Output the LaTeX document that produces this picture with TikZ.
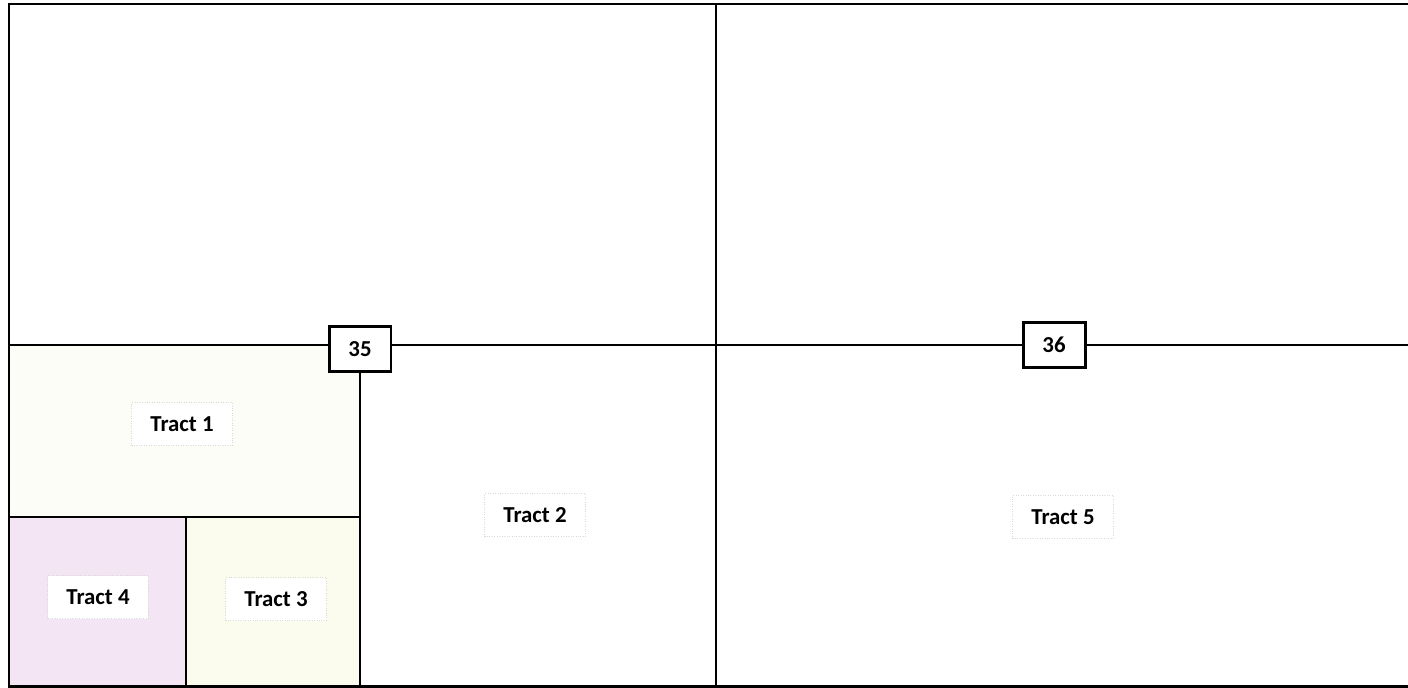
\documentclass[tikz,border=0pt]{standalone}
\usepackage{fontspec}
\setmainfont{Carlito}
\usetikzlibrary{positioning}
\definecolor{lotpink}{RGB}{243,229,243}
\definecolor{lotcream}{RGB}{252,252,238}
\definecolor{lotpale}{RGB}{253,253,247}

\begin{document}
\begin{tikzpicture}[x=0.02cm, y=-0.02cm,
    tract/.style={rectangle, draw=gray!30, densely dotted, fill=white, minimum width=2.02cm,
                  minimum height=0.86cm, font=\bfseries\fontsize{13}{15}\selectfont},
    lot/.style={rectangle, draw, line width=1.7pt, fill=white, minimum width=1.24cm,
                minimum height=0.9cm, font=\bfseries\fontsize{13}{15}\selectfont},
    edge/.style={line width=1.1pt},
    frame/.style={line width=1.7pt}
  ]
  \useasboundingbox (0,0) rectangle (1408,687);
  % shaded tracts
  \fill[lotpale]  (9,345) rectangle (360,517);
  \fill[lotpink]  (9,517) rectangle (186,686);
  \fill[lotcream] (186,517) rectangle (360,686);
  % corner coordinates
  \coordinate (w)  at (9,345);
  \coordinate (e)  at (1412,345);
  \coordinate (ct) at (716,4);
  \coordinate (cb) at (716,686);
  \coordinate (sw) at (9,517);
  \coordinate (s4) at (186,517);
  \coordinate (bl) at (9,686);
  % section numbers
  \node[lot] (n35) at (360,349) {35};
  \node[lot] (n36) at (1054,345) {36};
  % division lines
  \draw[edge] (w) -- (w -| n35.west);
  \draw[edge] (n35.east |- w) -- (n36.west |- w);
  \draw[edge] (n36.east |- w) -- (e);
  \draw[edge] (ct) -- (cb);
  \draw[edge] (n35.south) -- (n35.south |- bl);
  \draw[edge] (sw) -- (sw -| n35.south);
  \draw[edge] (s4) -- (s4 |- bl);
  % outer frame
  \draw[frame] (1412,4) -- (9,4) -- (bl) -- (1412,686);
  % tract labels
  \node[tract] (t1) at (182,424) {Tract 1};
  \node[tract] (t2) at (535,515) {Tract 2};
  \node[tract] (t3) at (276,599) {Tract 3};
  \node[tract] (t4) at (98,597)  {Tract 4};
  \node[tract] (t5) at (1063,517) {Tract 5};
\end{tikzpicture}
\end{document}
